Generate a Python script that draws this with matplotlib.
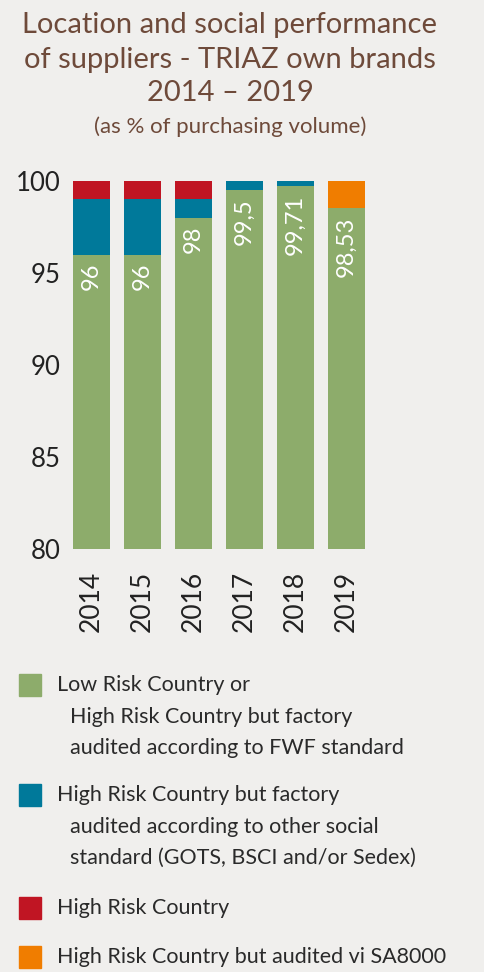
import matplotlib
matplotlib.use("Agg")
import matplotlib.pyplot as plt
from matplotlib.patches import Rectangle

years = ["2014", "2015", "2016", "2017", "2018", "2019"]
low_risk = [96, 96, 98, 99.5, 99.71, 98.53]
other_std = [3, 3, 1, 0.5, 0.29, 0]
high_risk = [1, 1, 1, 0, 0, 0]
sa8000 = [0, 0, 0, 0, 0, 1.47]
value_labels = ["96", "96", "98", "99,5", "99,71", "98,53"]

legend_items = [
    ["Low Risk Country or", "High Risk Country but factory", "audited according to FWF standard"],
    ["High Risk Country but factory", "audited according to other social", "standard (GOTS, BSCI and/or Sedex)"],
    ["High Risk Country"],
    ["High Risk Country but audited vi SA8000"],
]

GREEN = "#8dac6b"
BLUE = "#00799a"
RED = "#c01523"
ORANGE = "#f07d00"
BG = "#f0efed"
BROWN = "#6e4a3a"
colors = [GREEN, BLUE, RED, ORANGE]

plt.rcParams["font.family"] = ["Lato", "DejaVu Sans"]

fig = plt.figure(figsize=(4.84, 9.72), dpi=100, facecolor=BG)
ax = fig.add_axes([0.151, 0.4352, 0.603, 0.3786])
ax.set_facecolor(BG)

x = range(len(years))
w = 0.73
bottom0 = [80] * len(years)
g = [v - 80 for v in low_risk]
ax.bar(x, g, w, bottom=bottom0, color=GREEN)
b1 = low_risk
ax.bar(x, other_std, w, bottom=b1, color=BLUE)
b2 = [a + b for a, b in zip(b1, other_std)]
ax.bar(x, high_risk, w, bottom=b2, color=RED)
b3 = [a + b for a, b in zip(b2, high_risk)]
ax.bar(x, sa8000, w, bottom=b3, color=ORANGE)

for i, (v, lab) in enumerate(zip(low_risk, value_labels)):
    ax.text(i, v - 0.45, lab, rotation=90, ha="center", va="top",
            color="white", fontsize=17)

ax.set_ylim(80, 100)
ax.set_xlim(-w / 2, len(years) - 1 + w / 2)
ax.set_yticks([80, 85, 90, 95, 100])
ax.set_yticklabels(["80", "85", "90", "95", "100"], fontsize=18.5, color="#222222")
ax.set_xticks(list(x))
ax.set_xticklabels(years, rotation=90, fontsize=19, color="#222222")
ax.tick_params(length=0, axis="y", pad=9)
ax.tick_params(length=0, axis="x", pad=16)
for s in ax.spines.values():
    s.set_visible(False)

# title
H = 972
W = 484
tx = 230 / W
fig.text(tx, 1 - 25 / H, "Location and social performance", ha="center", va="center",
         fontsize=21, color=BROWN)
fig.text(tx, 1 - 60 / H, "of suppliers - TRIAZ own brands", ha="center", va="center",
         fontsize=21, color=BROWN)
fig.text(tx, 1 - 93 / H, "2014 \u2013 2019", ha="center", va="center",
         fontsize=21, color=BROWN)
fig.text(tx, 1 - 127 / H, "(as % of purchasing volume)", ha="center", va="center",
         fontsize=16, color=BROWN)

# legend
starts = [685, 795, 908, 957]
for item, y0, c in zip(legend_items, starts, colors):
    fig.patches.append(Rectangle((19 / W, 1 - (y0 + 11) / H), 22 / W, 22 / H,
                                 transform=fig.transFigure, color=c))
    for j, line in enumerate(item):
        xpos = 57 if j == 0 else 70
        fig.text(xpos / W, 1 - (y0 + j * 31.5) / H, line, ha="left", va="center",
                 fontsize=15.5, color="#2a2a2a")

fig.savefig("out.png", dpi=100, facecolor=BG)
